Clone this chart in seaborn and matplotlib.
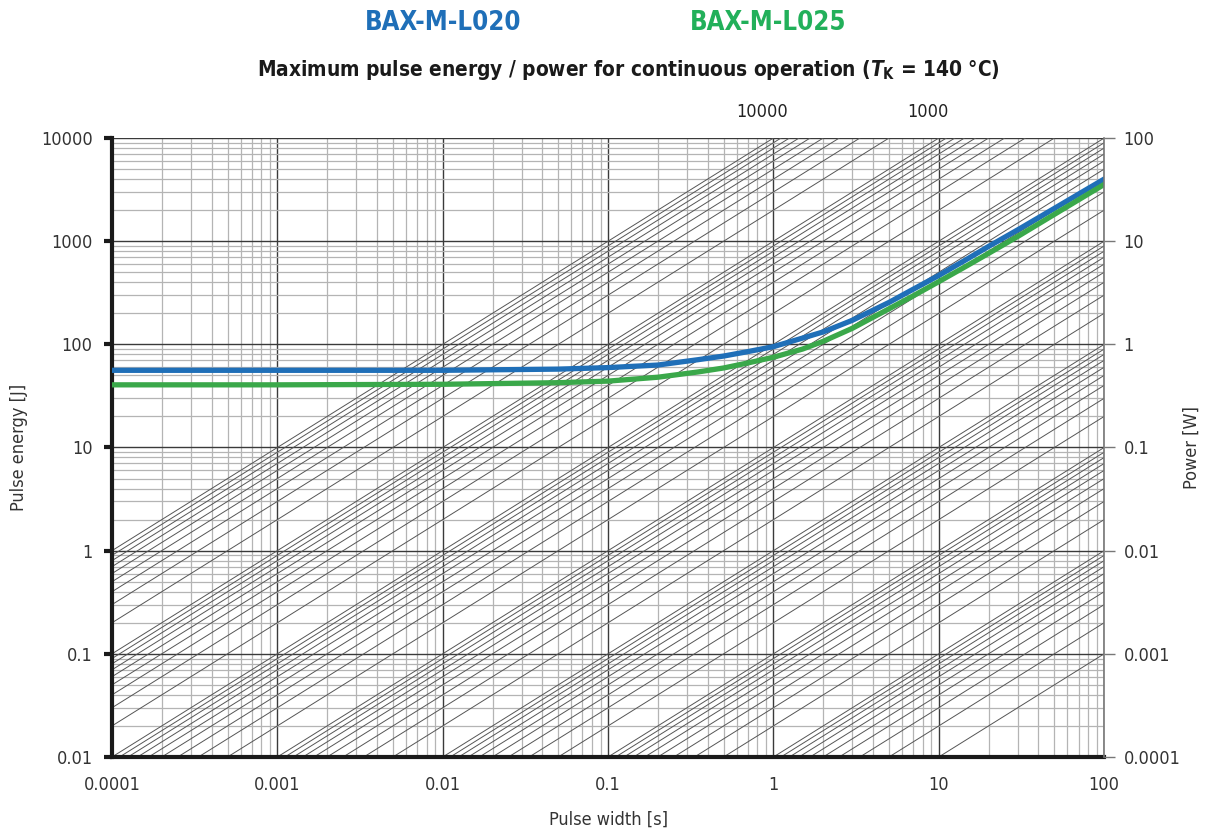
import numpy as np
import pandas as pd
import matplotlib
matplotlib.use("Agg")
import matplotlib.pyplot as plt
import matplotlib.ticker as ticker
from matplotlib import font_manager
import seaborn as sns

# Curve data
pulse_width_s = [0.0001, 0.001, 0.01, 0.05, 0.1, 0.2, 0.35, 0.5, 0.7, 1, 1.5, 2, 3, 5, 7,
                 10, 15, 20, 30, 50, 100]
energy_l020 = [56, 56, 56, 57.5, 59.5, 63, 71, 77, 85, 95, 115, 132, 171, 255, 342,
               465, 678, 890, 1288, 2080, 4000]
energy_l025 = [40.5, 40.5, 41, 42.5, 44, 48, 54, 59, 66, 75, 90, 107, 143, 221, 295,
               405, 585, 762, 1110, 1820, 3550]

# constant-power reference lines (W)
power_decades = [0.001, 0.01, 0.1, 1, 10, 100, 1000]
power_multipliers = [1, 2, 3, 4, 5, 6, 7, 8, 9]
power_extra = [10000]
power_labels = [10000, 1000]

x_ticks = [0.0001, 0.001, 0.01, 0.1, 1, 10, 100]
y_ticks = [0.01, 0.1, 1, 10, 100, 1000, 10000]
power_ticks = [0.0001, 0.001, 0.01, 0.1, 1, 10, 100]

BLUE = "#1f6fb8"
GREEN = "#3aa84a"

sns.set_style("white")

# look for a narrow font (the original uses a condensed grotesque)
narrow = None
for f in font_manager.fontManager.ttflist:
    if f.stretch in ("condensed", "semi-condensed", "extra-condensed") or "Narrow" in f.name \
            or "Condensed" in f.name:
        narrow = f
        break
if narrow is not None:
    plt.rcParams["font.family"] = [narrow.name, "DejaVu Sans"]
    plt.rcParams["font.stretch"] = narrow.stretch
    fs = 13
    try:
        plt.rcParams["mathtext.fontset"] = "custom"
        base = f"{narrow.name}:stretch={narrow.stretch}"
        plt.rcParams["mathtext.rm"] = base + ":weight=bold"
        plt.rcParams["mathtext.bf"] = base + ":weight=bold"
        plt.rcParams["mathtext.it"] = base + ":style=italic:weight=bold"
    except Exception:
        pass
else:
    plt.rcParams["font.family"] = ["DejaVu Sans"]
    fs = 11

df = pd.DataFrame({
    "width": pulse_width_s * 2,
    "energy": energy_l020 + energy_l025,
    "type": ["BAX-M-L020"] * len(pulse_width_s) + ["BAX-M-L025"] * len(pulse_width_s),
})

fig = plt.figure(figsize=(12.07, 8.30), dpi=100)
ax = fig.add_axes([0.0928, 0.088, 0.822, 0.7457])

ax.set_xscale("log")
ax.set_yscale("log")
ax.set_xlim(1e-4, 100)
ax.set_ylim(0.01, 10000)

# grid
ax.grid(which="major", color="#3a3a3a", lw=1.0)
ax.grid(which="minor", color="#b4b4b4", lw=0.9)
ax.xaxis.set_minor_locator(ticker.LogLocator(base=10, subs=np.arange(2, 10)))
ax.yaxis.set_minor_locator(ticker.LogLocator(base=10, subs=np.arange(2, 10)))
ax.set_axisbelow(True)

# diagonal constant-power lines
powers = [m * d for d in power_decades for m in power_multipliers] + power_extra
xx = np.array([1e-4, 100])
for p in powers:
    ax.plot(xx, p * xx, color="#555555", lw=0.7, zorder=1)

sns.lineplot(data=df, x="width", y="energy", hue="type",
             palette=[BLUE, GREEN], lw=3.8, ax=ax, legend=False, zorder=5)

ax.set_xticks(x_ticks)
ax.set_yticks(y_ticks)
fmt = ticker.FuncFormatter(lambda v, _: f"{v:g}")
ax.xaxis.set_major_formatter(fmt)
ax.yaxis.set_major_formatter(fmt)
ax.xaxis.set_minor_formatter(ticker.NullFormatter())
ax.yaxis.set_minor_formatter(ticker.NullFormatter())
ax.tick_params(which="major", direction="out", length=6, width=3, color="#1a1a1a",
               labelsize=fs, labelcolor="#333333", pad=8)
ax.tick_params(which="minor", length=0)

for s in ["top", "right"]:
    ax.spines[s].set_visible(False)
for s in ["left", "bottom"]:
    ax.spines[s].set_linewidth(3)
    ax.spines[s].set_color("#1a1a1a")

ax.set_xlabel("Pulse width [s]", fontsize=fs, color="#333333", labelpad=12)
ax.set_ylabel("Pulse energy [J]", fontsize=fs, color="#333333")
ax.yaxis.set_label_coords(-0.085, 0.5)

# right power axis
ax2 = ax.twinx()
ax2.set_yscale("log")
ax2.set_ylim(0.0001, 100)
ax2.set_yticks(power_ticks)
ax2.yaxis.set_major_formatter(fmt)
ax2.yaxis.set_minor_locator(ticker.NullLocator())
ax2.tick_params(which="major", direction="out", length=8, width=1, color="#777777",
                labelsize=fs, labelcolor="#333333", pad=6)
for s in ["top", "left", "bottom"]:
    ax2.spines[s].set_visible(False)
ax2.spines["right"].set_color("#777777")
ax2.spines["right"].set_linewidth(1.2)
ax2.set_ylabel("Power [W]", fontsize=fs, color="#333333")
ax2.yaxis.set_label_coords(1.079, 0.5)

# labels for diagonal lines at top edge
for p in power_labels:
    ax.annotate(f"{p}", xy=(10000 / p, 10000), xytext=(-8, 12),
                textcoords="offset points", ha="center", va="bottom",
                fontsize=fs, color="#222222", annotation_clip=False)

h1 = fig.text(0.367, 0.972, "BAX-M-L020", color=BLUE, fontsize=24, fontweight="bold",
              ha="center", va="center")
h2 = fig.text(0.636, 0.972, "BAX-M-L025", color="#22b05a", fontsize=24, fontweight="bold",
              ha="center", va="center")
title = fig.text(0.521, 0.916,
                 r"Maximum pulse energy / power for continuous operation ($\mathit{T}_\mathrm{K}$ = 140 °C)",
                 color="#1a1a1a", fontsize=18, fontweight="bold", ha="center", va="center")

# fit header/title widths to the original layout
fig.canvas.draw()
r = fig.canvas.get_renderer()
for t, target in [(h1, 156), (h2, 156), (title, 743)]:
    w = t.get_window_extent(r).width
    t.set_fontsize(t.get_fontsize() * target / w)

fig.savefig("out.png", dpi=100)
